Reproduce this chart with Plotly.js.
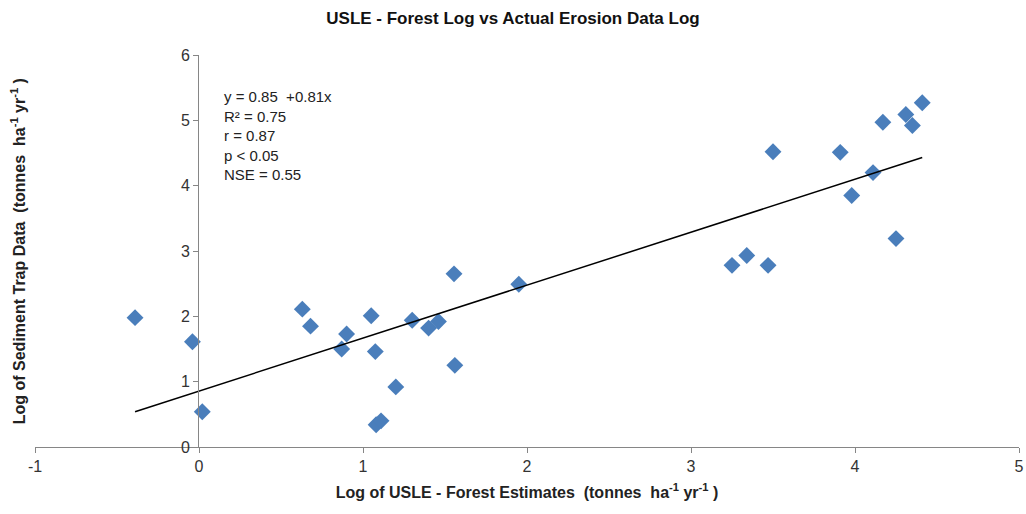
<!DOCTYPE html>
<html>
<head>
<meta charset="utf-8">
<script src="https://cdn.plot.ly/plotly-3.0.1.min.js"></script>
<style>html,body{margin:0;padding:0;background:#fff;}#chart{width:1026px;height:514px;}</style>
</head>
<body>
<div id="chart"></div>
<script>
// USLE - Forest log estimates (x) vs sediment trap data log (y)
const usleLog = [-0.39, -0.04, 0.02, 0.63, 0.68, 0.87, 0.90, 1.05, 1.075, 1.08, 1.11, 1.20, 1.30, 1.40, 1.46, 1.56, 1.555, 1.95,
                 3.25, 3.34, 3.47, 3.50, 3.91, 3.98, 4.11, 4.17, 4.25, 4.31, 4.35, 4.41];
const trapLog = [1.98, 1.61, 0.54, 2.11, 1.85, 1.50, 1.73, 2.01, 1.46, 0.34, 0.40, 0.92, 1.94, 1.82, 1.92, 1.25, 2.65, 2.49,
                 2.78, 2.93, 2.78, 4.52, 4.51, 3.85, 4.20, 4.97, 3.19, 5.09, 4.92, 5.27];
// Trend line end points
const trendX = [-0.39, 4.41];
const trendY = [0.54, 4.43];
const statsLines = ["y = 0.85  +0.81x", "R² = 0.75", "r = 0.87", "p < 0.05", "NSE = 0.55"];
const xTicks = [-1, 0, 1, 2, 3, 4, 5];
const yTicks = [0, 1, 2, 3, 4, 5, 6];

const axisGray = "#868686";
const fontFam = "'Liberation Sans Narrow', 'Arial Narrow', 'Liberation Sans', Arial, sans-serif";

const traces = [
  {
    x: usleLog, y: trapLog, type: "scatter", mode: "markers",
    marker: {symbol: "diamond", size: 13, color: "#4a7ebb", line: {width: 0}},
    hoverinfo: "x+y", showlegend: false
  },
  {
    x: trendX, y: trendY, type: "scatter", mode: "lines",
    line: {color: "#000000", width: 1.5}, hoverinfo: "skip", showlegend: false
  }
];

const layout = {
  width: 1026, height: 514,
  margin: {l: 35, r: 7, t: 55, b: 67},
  paper_bgcolor: "#ffffff", plot_bgcolor: "#ffffff",
  font: {family: fontFam, color: "#222222", size: 14},
  showlegend: false,
  title: {
    text: "<b>USLE - Forest Log vs Actual Erosion Data Log</b>",
    font: {family: fontFam, size: 17, color: "#111111"},
    x: 0.5, xanchor: "center", y: 0.965, yanchor: "middle"
  },
  xaxis: {
    range: [-1, 5], tickvals: xTicks, ticktext: xTicks.map(String),
    showgrid: false, zeroline: false,
    showline: true, linecolor: axisGray, linewidth: 1,
    ticks: "outside", ticklen: 5, tickcolor: axisGray, tickwidth: 1,
    tickfont: {family: fontFam, size: 16, color: "#333333"},
    title: {text: "<b>Log of USLE - Forest Estimates  (tonnes  ha<sup>-1</sup> yr<sup>-1</sup> )</b>",
            font: {family: fontFam, size: 16, color: "#222222"}, standoff: 12},
    fixedrange: true
  },
  yaxis: {
    range: [0, 6], tickvals: yTicks, ticktext: yTicks.map(String),
    anchor: "free", position: 0.1657,
    showgrid: false, zeroline: false,
    showline: true, linecolor: axisGray, linewidth: 1,
    ticks: "outside", ticklen: 5, tickcolor: axisGray, tickwidth: 1,
    tickfont: {family: fontFam, size: 16, color: "#333333"},
    fixedrange: true
  },
  annotations: [
    {
      xref: "paper", yref: "paper", x: 0.1905, y: 0.92, xanchor: "left", yanchor: "top",
      text: statsLines.join("<br>"), align: "left", showarrow: false,
      font: {family: "'Liberation Sans', Arial, sans-serif", size: 15, color: "#222222"}
    },
    {
      xref: "paper", yref: "paper", x: -0.017, y: 0.5, xanchor: "center", yanchor: "middle",
      textangle: -90, showarrow: false,
      text: "<b>Log of Sediment Trap Data  (tonnes  ha<sup>-1</sup> yr<sup>-1</sup> )</b>",
      font: {family: "'Liberation Sans', Arial, sans-serif", size: 16, color: "#222222"}
    }
  ]
};

Plotly.newPlot("chart", traces, layout, {staticPlot: true, displayModeBar: false});
</script>
</body>
</html>
